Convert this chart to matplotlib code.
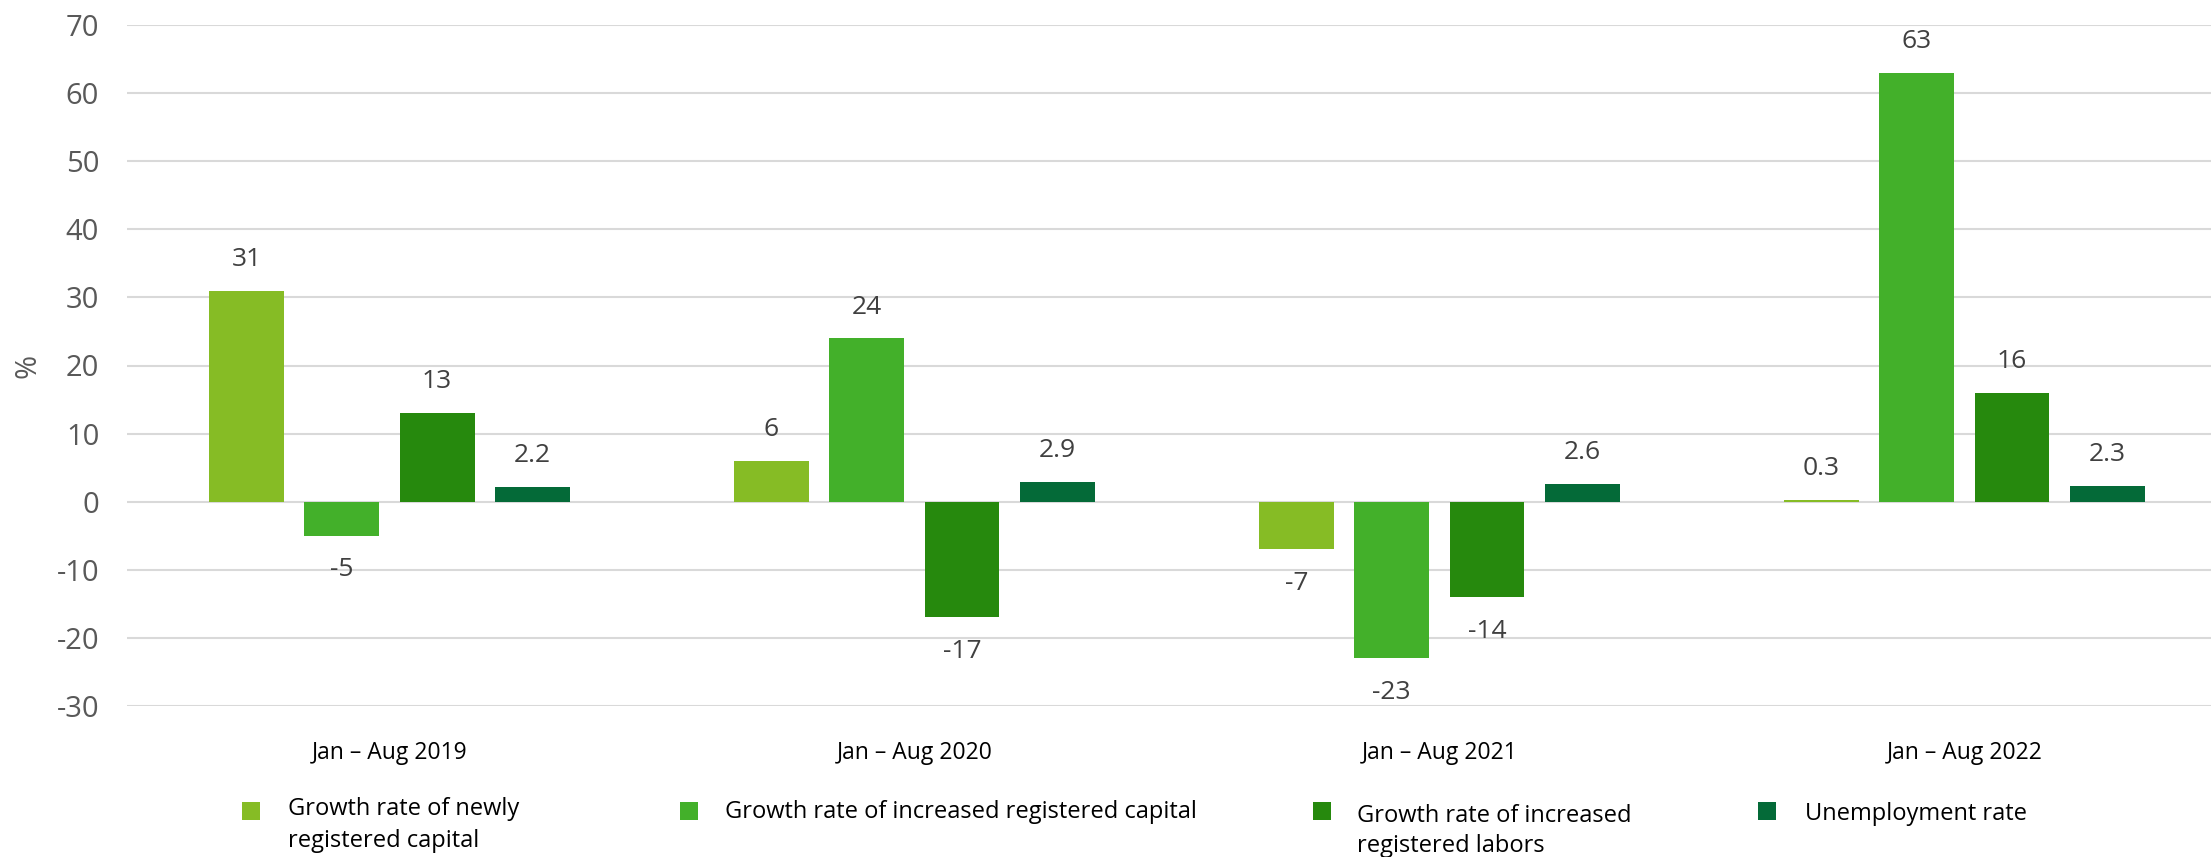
import matplotlib
matplotlib.use("Agg")
import matplotlib.pyplot as plt
from matplotlib.patches import Rectangle

# ---- data ----
periods = ["Jan \u2013 Aug 2019", "Jan \u2013 Aug 2020", "Jan \u2013 Aug 2021", "Jan \u2013 Aug 2022"]
new_capital = [31, 6, -7, 0.3]
increased_capital = [-5, 24, -23, 63]
increased_labors = [13, -17, -14, 16]
unemployment = [2.2, 2.9, 2.6, 2.3]

value_labels_new = ["31", "6", "-7", "0.3"]
value_labels_inc_cap = ["-5", "24", "-23", "63"]
value_labels_labors = ["13", "-17", "-14", "16"]
value_labels_unemp = ["2.2", "2.9", "2.6", "2.3"]

series_names = [
    ["Growth rate of newly", "registered capital"],
    ["Growth rate of increased registered capital"],
    ["Growth rate of increased", "registered labors"],
    ["Unemployment rate"],
]
y_ticks = [-30, -20, -10, 0, 10, 20, 30, 40, 50, 60, 70]

# ---- style ----
colors = ["#86BC25", "#43B02A", "#26890D", "#046A38"]
text_font = ["Open Sans", "DejaVu Sans"]

W, H = 2211, 857
fig = plt.figure(figsize=(W / 100, H / 100), dpi=100)
ax = fig.add_axes([127 / W, 1 - 706 / H, 1 - 127 / W, (706 - 25) / H])

series = [new_capital, increased_capital, increased_labors, unemployment]
labels = [value_labels_new, value_labels_inc_cap, value_labels_labors, value_labels_unemp]
pitch = 0.1815
width = 0.1425
x = list(range(len(periods)))

for i, (vals, labs) in enumerate(zip(series, labels)):
    off = (i - 1.5) * pitch
    xs = [xi + off for xi in x]
    ax.bar(xs, vals, width=width, color=colors[i], zorder=3)
    for xv, v, lab in zip(xs, vals, labs):
        dy = 22.5 if v >= 0 else -24.5
        ax.annotate(lab, (xv, v), xytext=(0, dy), textcoords="offset points",
                    ha="center", va="center", fontsize=19, color="#404040",
                    family=text_font, zorder=4)

ax.set_ylim(-30, 70)
ax.set_xlim(-0.5, 3.47)
ax.set_yticks(y_ticks)
ax.set_yticklabels([str(t) for t in y_ticks], family=text_font, fontsize=21, color="#595959")
ax.set_xticks(x)
ax.set_xticklabels(periods, family=text_font, fontsize=16.5, color="#000000")
ax.tick_params(axis="y", length=0, pad=20)
ax.tick_params(axis="x", length=0, pad=25)
ax.grid(axis="y", color="#D9D9D9", linewidth=1.5, zorder=0)
for s in ax.spines.values():
    s.set_visible(False)

fig.text(28 / W, 1 - 366 / H, "%", rotation=90, ha="center", va="center",
         family=text_font, fontsize=21, color="#595959")

# ---- legend ----
sq = 18
entries = [
    (242, 288, [815, 847], 811),
    (680, 725, [818], 811),
    (1313, 1357, [822, 852], 811),
    (1758, 1805, [820], 811),
]
for (sx, tx, baselines, sy), col, name in zip(entries, colors, series_names):
    fig.patches.append(Rectangle((sx / W, 1 - (sy + sq / 2) / H), sq / W, sq / H,
                                 transform=fig.transFigure, facecolor=col,
                                 edgecolor="none"))
    for b, line in zip(baselines, name):
        fig.text(tx / W, 1 - b / H, line, ha="left", va="baseline",
                 family=text_font, fontsize=17, color="#000000")

fig.savefig("out.png", dpi=100, facecolor="white")
